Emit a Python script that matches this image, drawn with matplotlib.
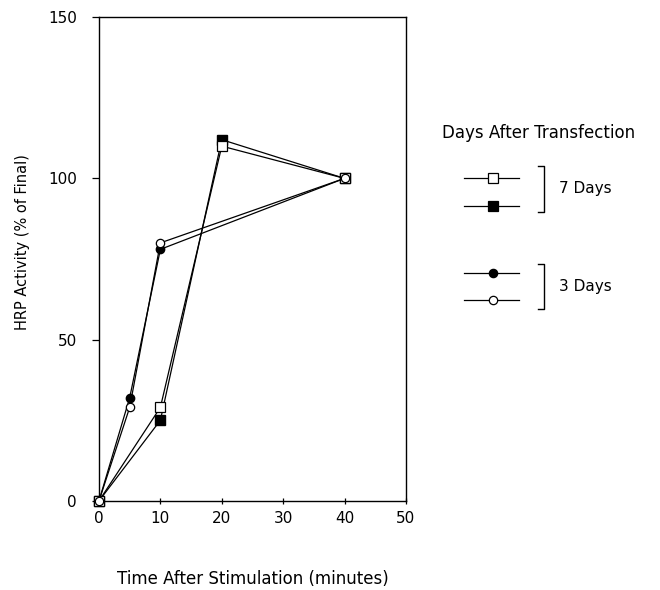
import matplotlib
matplotlib.use('Agg')
import matplotlib.pyplot as plt

# time after stimulation (minutes)
t_3d = [0, 5, 10, 40]
t_7d = [0, 10, 20, 40]

# HRP activity (% of final)
d7_open = [0, 29, 110, 100]
d7_filled = [0, 25, 112, 100]
d3_filled = [0, 32, 78, 100]
d3_open = [0, 29, 80, 100]

plt.rcParams['font.family'] = ['DejaVu Sans']
fig = plt.figure(figsize=(6.6, 5.9), dpi=100)
ax = fig.add_axes([0.15, 0.151, 0.465, 0.820])

lw = 0.9
ax.plot(t_7d, d7_open, color='black', lw=lw, marker='s', ms=7,
        mfc='white', mec='black', mew=0.9, clip_on=False, zorder=4)
ax.plot(t_7d, d7_filled, color='black', lw=lw, marker='s', ms=7,
        mfc='black', mec='black', clip_on=False, zorder=3)
ax.plot(t_3d, d3_filled, color='black', lw=lw, marker='o', ms=6,
        mfc='black', mec='black', clip_on=False, zorder=3)
ax.plot(t_3d, d3_open, color='black', lw=lw, marker='o', ms=6,
        mfc='white', mec='black', mew=0.9, clip_on=False, zorder=4)

ax.set_xlim(0, 50)
ax.set_ylim(0, 150)
ax.set_xticks([0, 10, 20, 30, 40, 50])
ax.set_yticks([0, 50, 100, 150])
ax.tick_params(axis='both', labelsize=11, width=0.9)
ax.tick_params(axis='y', length=5, direction='out', pad=11)
ax.tick_params(axis='x', length=4, direction='inout', pad=5)
for s in ax.spines.values():
    s.set_linewidth(1.0)

ax.set_xlabel('Time After Stimulation (minutes)', fontsize=12, labelpad=32)
ax.set_ylabel('HRP Activity (% of Final)', fontsize=10.5, labelpad=12)
ax.yaxis.set_label_coords(-0.225, 0.535)

# key: overlay axes in pixel units (0..660 across, 0..590 down)
key = fig.add_axes([0, 0, 1, 1])
key.set_xlim(0, 660)
key.set_ylim(590, 0)
key.axis('off')

rows = [178, 206, 273, 300]
styles = [('s', 'white', 7), ('s', 'black', 7), ('o', 'black', 6), ('o', 'white', 6)]
for y, (m, fc, ms) in zip(rows, styles):
    key.plot([464, 519], [y, y], color='black', lw=lw)
    key.plot([493], [y], marker=m, ms=ms, mfc=fc, mec='black', mew=0.9, color='black')

for y0, y1, lab in [(166, 212, '7 Days'), (264, 309, '3 Days')]:
    key.plot([538, 544, 544, 538], [y0, y0, y1, y1], color='black', lw=1.0)
    key.text(559, (y0 + y1) / 2, lab, fontsize=11, va='center', ha='left')

key.text(442, 133, 'Days After Transfection', fontsize=12, va='center', ha='left')

fig.savefig('out.png', dpi=100)
